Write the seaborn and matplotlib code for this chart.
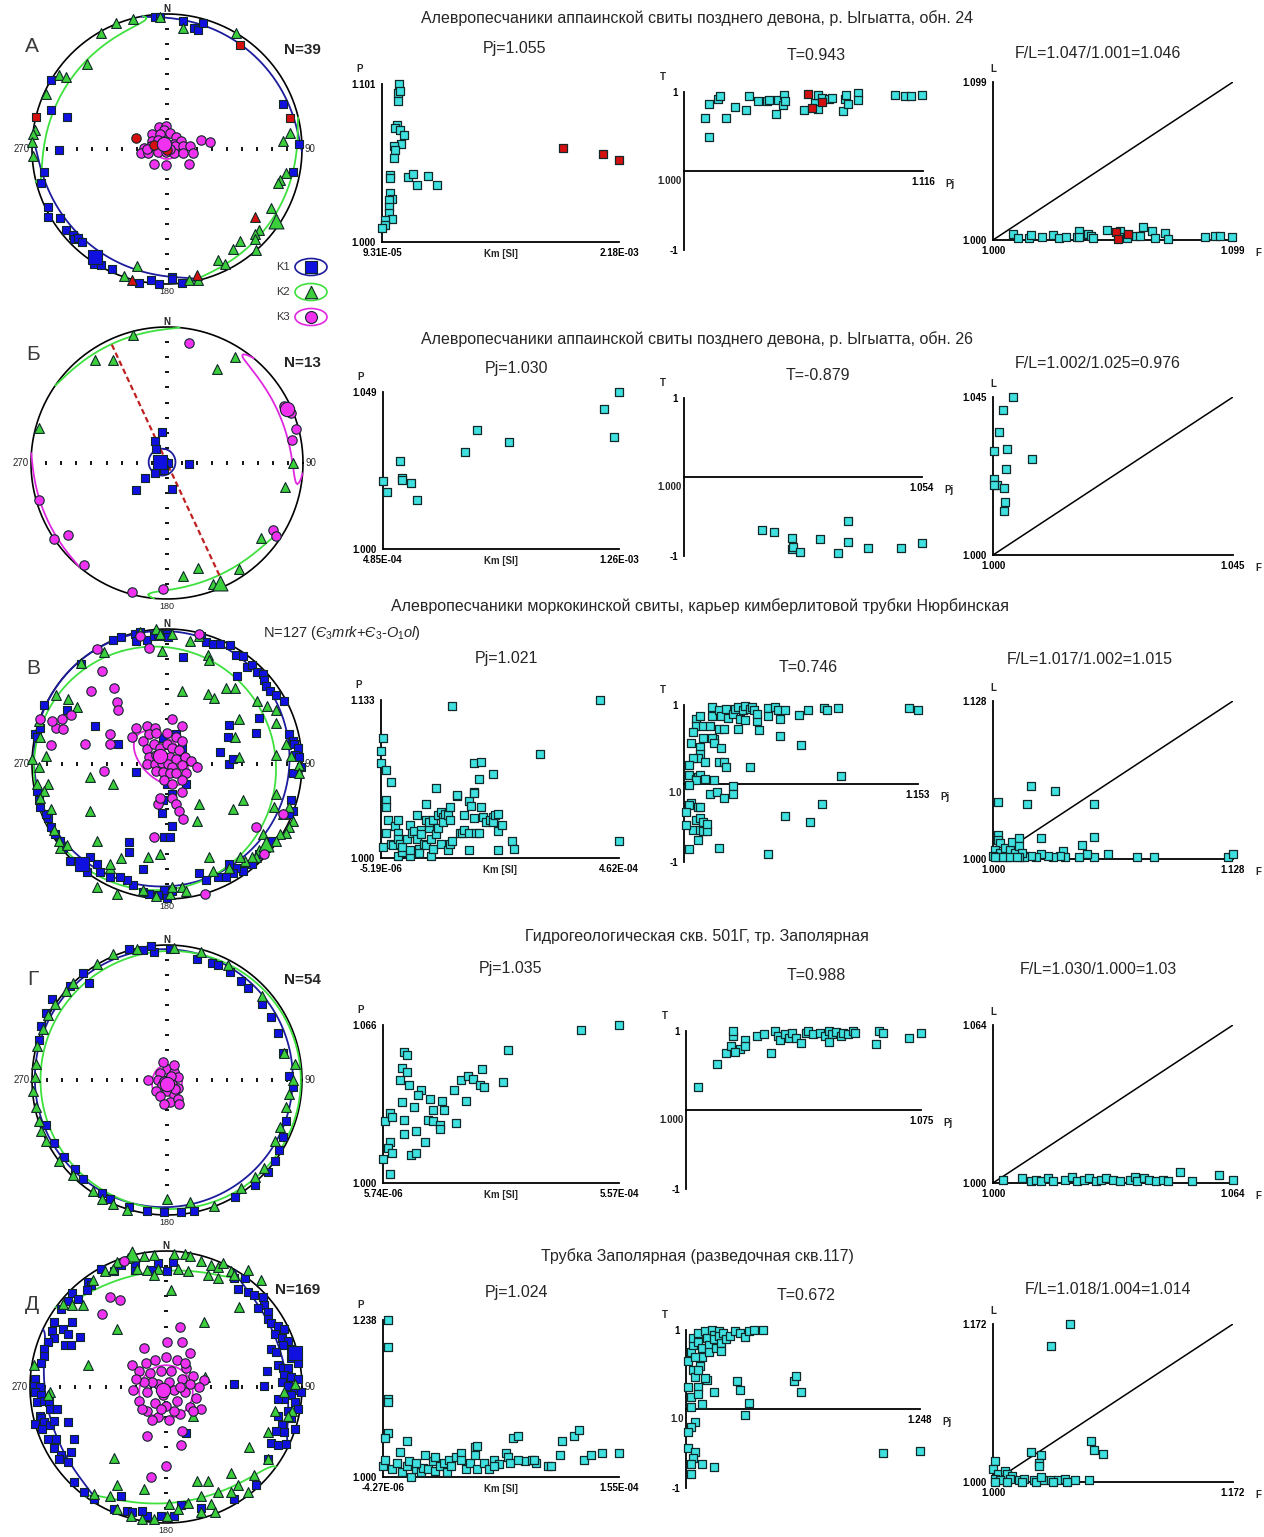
import numpy as np
import matplotlib
matplotlib.use("Agg")
import matplotlib.pyplot as plt
import seaborn as sns
from matplotlib.patches import Ellipse

sns.set_theme(style="white")
plt.rcParams['font.family'] = ['Liberation Sans', 'DejaVu Sans']
plt.rcParams['mathtext.fontset'] = 'custom'
plt.rcParams['mathtext.rm'] = 'Liberation Sans'
plt.rcParams['mathtext.it'] = 'Liberation Sans:italic'
plt.rcParams['mathtext.bf'] = 'Liberation Sans:bold'

REG = ['Liberation Sans', 'DejaVu Sans']
NAR = ['Liberation Sans Narrow', 'Liberation Sans', 'DejaVu Sans']

# ---------------------------------------------------------------- text data
row_titles = [
    "Алевропесчаники аппаинской свиты позднего девона, р. Ыгыатта, обн. 24",
    "Алевропесчаники аппаинской свиты позднего девона, р. Ыгыатта, обн. 26",
    "Алевропесчаники моркокинской свиты, карьер кимберлитовой трубки Нюрбинская",
    "Гидрогеологическая скв. 501Г, тр. Заполярная",
    "Трубка Заполярная (разведочная скв.117)",
]
panel_letters = ["А", "Б", "В", "Г", "Д"]
n_labels = ["N=39", "N=13", r"N=127 ($\mathit{Є_3mrk}$+$\mathit{Є_3}$-$\mathit{O_1ol}$)", "N=54", "N=169"]
pj_titles = ["Pj=1.055", "Pj=1.030", "Pj=1.021", "Pj=1.035", "Pj=1.024"]
t_titles = ["T=0.943", "T=-0.879", "T=0.746", "T=0.988", "T=0.672"]
fl_titles = ["F/L=1.047/1.001=1.046", "F/L=1.002/1.025=0.976", "F/L=1.017/1.002=1.015",
             "F/L=1.030/1.000=1.03", "F/L=1.018/1.004=1.014"]
p_ticks = [["1.000", "1.101"], ["1.000", "1.049"], ["1.000", "1.133"], ["1.000", "1.066"], ["1.000", "1.238"]]
km_ticks = [["9.31E-05", "2.18E-03"], ["4.85E-04", "1.26E-03"], ["-5.19E-06", "4.62E-04"],
            ["5.74E-06", "5.57E-04"], ["-4.27E-06", "1.55E-04"]]
pj_ticks = [["1.000", "1.116"], ["1.000", "1.054"], ["1.0", "1.153"], ["1.000", "1.075"], ["1.0", "1.248"]]
l_ticks = [["1.000", "1.099"], ["1.000", "1.045"], ["1.000", "1.128"], ["1.000", "1.064"], ["1.000", "1.172"]]
legend_names = ["K1", "K2", "K3"]

# ---------------------------------------------------------------- scatter data (fractions of axis span; T in [-1,1])
r1_pkm = [(0.070,1.000),(0.066,0.943),(0.077,0.954),(0.066,0.890),(0.063,0.743),(0.056,0.722),(0.074,0.711),
          (0.091,0.679),(0.080,0.622),(0.052,0.610),(0.056,0.584),(0.052,0.532),(0.035,0.426),(0.035,0.405),
          (0.109,0.409),(0.130,0.430),(0.147,0.363),(0.196,0.416),(0.234,0.359),(0.035,0.310),(0.042,0.274),
          (0.031,0.268),(0.028,0.219),(0.029,0.184),(0.042,0.146),(0.014,0.137),(0.014,0.110),(0.000,0.089)]
r1_pkm_red = [(0.762,0.595),(0.933,0.559),(1.000,0.517)]
r1_tpj = [(0.087,0.665),(0.103,0.434),(0.103,0.845),(0.143,0.916),(0.150,0.950),(0.176,0.665),(0.213,0.807),
          (0.260,0.778),(0.273,0.950),(0.308,0.887),(0.348,0.883),(0.357,0.904),(0.386,0.727),(0.394,0.904),
          (0.415,0.832),(0.420,0.958),(0.422,0.887),(0.502,0.769),(0.548,0.866),(0.559,0.790),(0.559,0.958),
          (0.579,0.925),(0.607,0.908),(0.618,0.920),(0.664,0.757),(0.674,0.916),(0.678,0.958),(0.688,0.845),
          (0.726,0.987),(0.730,0.904),(0.884,0.958),(0.926,0.945),(0.951,0.954),(0.996,0.962)]
r1_tpj_red = [(0.517,0.979),(0.537,0.803),(0.579,0.874)]
r1_lf = [(0.084,0.036),(0.104,0.011),(0.150,0.011),(0.160,0.032),(0.206,0.021),(0.248,0.032),(0.274,0.011),
         (0.306,0.021),(0.348,0.021),(0.359,0.057),(0.397,0.038),(0.407,0.027),(0.418,0.011),(0.476,0.063),
         (0.529,0.059),(0.536,0.021),(0.557,0.011),(0.595,0.025),(0.613,0.025),(0.627,0.085),(0.662,0.059),
         (0.675,0.011),(0.717,0.042),(0.731,0.006),(0.884,0.021),(0.923,0.027),(0.947,0.025),(0.996,0.021),
         (0.358,0.021)]
r1_lf_red = [(0.513,0.053),(0.522,0.006),(0.564,0.038)]

r2_pkm = [(0.0,0.433),(0.015,0.364),(0.074,0.560),(0.081,0.455),(0.081,0.440),(0.118,0.423),(0.143,0.311),
          (0.349,0.615),(0.398,0.757),(0.536,0.683),(0.936,0.894),(0.980,0.715),(1.0,1.0)]
r2_tpj = [(0.327,-0.666),(0.377,-0.691),(0.455,-0.772),(0.455,-0.915),(0.460,-0.882),(0.486,-0.949),
          (0.571,-0.784),(0.647,-0.958),(0.687,-0.560),(0.690,-0.822),(0.775,-0.903),(0.910,-0.899),(1.0,-0.835)]
r2_lf = [(0.082,1.0),(0.040,0.920),(0.027,0.781),(0.005,0.656),(0.060,0.673),(0.164,0.605),(0.055,0.544),
         (0.005,0.479),(0.017,0.441),(0.005,0.441),(0.047,0.422),(0.050,0.335),(0.047,0.281)]

r3_pkm = [(0.01,0.76),(0.00,0.68),(0.00,0.60),(0.02,0.56),(0.04,0.48),(0.02,0.37),(0.02,0.32),(0.03,0.24),
          (0.02,0.16),(0.01,0.07),(0.04,0.09),(0.05,0.08),(0.06,0.20),(0.07,0.24),(0.07,0.16),(0.07,0.12),
          (0.08,0.09),(0.07,0.01),(0.09,0.04),(0.09,0.07),(0.11,0.12),(0.12,0.01),(0.12,0.21),(0.12,0.05),
          (0.13,0.16),(0.14,0.17),(0.15,0.12),(0.15,0.27),(0.16,0.06),(0.16,0.03),(0.17,0.18),(0.17,0.15),
          (0.18,0.09),(0.19,0.24),(0.19,0.34),(0.19,0.08),(0.20,0.19),(0.20,0.23),(0.21,0.12),(0.21,0.01),
          (0.22,0.06),(0.22,0.24),(0.23,0.15),(0.23,0.44),(0.24,0.27),(0.24,0.19),(0.25,0.29),(0.25,0.09),
          (0.26,0.26),(0.26,0.23),(0.27,0.28),(0.28,0.05),(0.28,0.27),(0.29,0.32),(0.29,0.24),(0.29,0.09),
          (0.30,0.11),(0.30,0.96),(0.32,0.39),(0.32,0.40),(0.33,0.16),(0.34,0.16),(0.35,0.27),(0.35,0.18),
          (0.37,0.16),(0.37,0.05),(0.37,0.36),(0.38,0.33),(0.39,0.25),(0.39,0.60),(0.39,0.42),(0.39,0.41),
          (0.40,0.16),(0.41,0.16),(0.41,0.50),(0.42,0.32),(0.42,0.61),(0.43,0.26),(0.44,0.23),(0.46,0.24),
          (0.47,0.26),(0.47,0.53),(0.47,0.23),(0.48,0.27),(0.49,0.05),(0.49,0.28),(0.49,0.17),(0.51,0.21),
          (0.55,0.11),(0.56,0.06),(0.67,0.66),(0.92,1.00),(1.00,0.11)]
r3_tpj = [(0.12,0.97),(0.12,0.86),(0.15,0.94),(0.16,0.86),(0.18,0.95),(0.19,0.84),(0.21,0.89),(0.22,0.95),
          (0.23,0.97),(0.24,0.82),(0.25,0.93),(0.26,0.99),(0.26,0.81),(0.28,0.95),(0.29,0.97),(0.30,0.93),
          (0.31,0.80),(0.31,0.89),(0.36,0.96),(0.36,0.86),(0.39,0.97),(0.40,0.94),(0.41,0.82),(0.43,0.93),
          (0.49,0.87),(0.53,0.93),(0.60,0.96),(0.61,0.94),(0.66,0.96),(0.96,0.96),(1.00,0.93),
          (0.05,0.82),(0.07,0.86),(0.05,0.73),(0.08,0.73),(0.11,0.73),(0.04,0.65),(0.08,0.58),(0.03,0.52),
          (0.07,0.46),(0.07,0.38),(0.06,0.32),(0.04,0.32),(0.02,0.24),(0.09,0.27),(0.13,0.57),(0.15,0.69),
          (0.17,0.70),(0.12,0.58),(0.13,0.51),(0.16,0.45),(0.15,0.28),(0.17,0.27),(0.18,0.21),(0.23,0.69),
          (0.32,0.68),(0.41,0.61),(0.50,0.49),(0.28,0.21),(0.67,0.10),
          (0.02,0.11),(0.05,0.06),(0.06,0.08),(0.07,0.11),(0.05,0.04),(0.09,0.06),(0.13,0.04),(0.02,-0.02),
          (0.21,-0.03),(0.11,-0.14),(0.14,-0.11),(0.17,-0.18),(0.21,-0.14),(0.03,-0.25),(0.02,-0.27),
          (0.06,-0.30),(0.07,-0.30),(0.01,-0.36),(0.59,-0.26),(0.43,-0.41),(0.54,-0.49),
          (0.05,-0.46),(0.07,-0.44),(0.08,-0.49),(0.04,-0.59),(0.07,-0.59),(0.08,-0.60),(0.10,-0.60),
          (0.10,-0.51),(0.01,-0.53),(0.06,-0.72),(0.02,-0.84),(0.15,-0.82),(0.36,-0.90)]
r3_lf = [(0.02,0.36),(0.16,0.46),(0.14,0.35),(0.26,0.43),(0.42,0.35),(0.20,0.13),(0.37,0.09),(0.42,0.14),
         (0.98,0.01),(1.00,0.03),(0.67,0.01),(0.60,0.01),(0.48,0.03),(0.42,0.01),(0.39,0.03),(0.36,0.01),
         (0.29,0.05),(0.30,0.01),(0.28,0.02),(0.25,0.01),(0.23,0.02),(0.20,0.03),(0.18,0.01),(0.16,0.02),
         (0.13,0.01),(0.02,0.15),(0.02,0.12),(0.03,0.10),(0.01,0.06),(0.03,0.04),(0.05,0.07),(0.07,0.06),
         (0.06,0.01),(0.08,0.11),(0.09,0.04),(0.11,0.13),(0.11,0.08),(0.12,0.04),(0.11,0.01),(0.02,0.01),
         (0.04,0.01),(0.07,0.01),(0.10,0.01),(0.00,0.02),(0.01,0.01)]

r4_pkm = [(1.00,1.00),(0.84,0.97),(0.53,0.84),(0.09,0.83),(0.10,0.81),(0.08,0.73),(0.10,0.70),(0.07,0.65),
          (0.11,0.62),(0.16,0.59),(0.15,0.56),(0.08,0.51),(0.13,0.48),(0.01,0.39),(0.03,0.44),(0.04,0.42),
          (0.09,0.40),(0.14,0.33),(0.09,0.31),(0.03,0.26),(0.02,0.22),(0.04,0.19),(0.12,0.18),(0.14,0.19),
          (0.18,0.26),(0.00,0.15),(0.03,0.06),(0.20,0.53),(0.25,0.52),(0.21,0.46),(0.26,0.46),(0.19,0.40),
          (0.21,0.39),(0.24,0.37),(0.24,0.34),(0.31,0.38),(0.30,0.59),(0.33,0.65),(0.36,0.68),(0.38,0.66),
          (0.41,0.62),(0.42,0.72),(0.43,0.61),(0.35,0.52),(0.51,0.64)]
r4_tpj = [(0.05,0.29),(0.13,0.58),(0.17,0.72),(0.19,0.81),(0.20,0.94),(0.20,1.00),(0.23,0.77),(0.25,0.89),
          (0.30,0.94),(0.33,0.96),(0.36,0.72),(0.38,1.00),(0.39,0.94),(0.40,0.89),(0.42,0.96),(0.44,0.91),
          (0.45,0.98),(0.47,0.91),(0.49,0.85),(0.51,0.98),(0.52,1.00),(0.54,0.96),(0.57,0.98),(0.59,0.94),
          (0.61,1.00),(0.62,0.96),(0.64,0.99),(0.66,0.94),(0.67,0.98),(0.69,0.96),(0.71,1.00),(0.72,0.98),
          (0.81,0.84),(0.82,1.00),(0.84,0.98),(0.95,0.91),(1.00,0.97),(0.61,0.86),(0.25,0.81),(0.21,0.74)]
r4_lf = [(0.04,0.02),(0.12,0.03),(0.16,0.01),(0.18,0.02),(0.20,0.01),(0.23,0.03),(0.25,0.01),(0.30,0.02),
         (0.33,0.04),(0.35,0.01),(0.38,0.02),(0.40,0.03),(0.43,0.01),(0.45,0.02),(0.47,0.03),(0.50,0.02),
         (0.53,0.01),(0.57,0.02),(0.59,0.04),(0.60,0.01),(0.63,0.03),(0.65,0.02),(0.68,0.01),(0.71,0.02),
         (0.73,0.01),(0.78,0.07),(0.83,0.01),(0.94,0.05),(1.00,0.02)]

r5_pkm = [(0.02,1.00),(0.02,0.83),(0.02,0.50),(0.02,0.48),(0.02,0.28),(0.01,0.25),(0.10,0.23),(0.00,0.07),
          (0.01,0.11),(0.04,0.05),(0.06,0.09),(0.07,0.16),(0.08,0.03),(0.10,0.07),(0.11,0.10),(0.12,0.00),
          (0.14,0.05),(0.16,0.03),(0.17,0.06),(0.18,0.14),(0.19,0.05),(0.21,0.10),(0.22,0.04),(0.24,0.07),
          (0.26,0.09),(0.27,0.03),(0.28,0.11),(0.31,0.13),(0.33,0.15),(0.35,0.05),(0.37,0.09),(0.39,0.19),
          (0.40,0.20),(0.39,0.14),(0.40,0.05),(0.43,0.09),(0.45,0.05),(0.47,0.11),(0.49,0.08),(0.52,0.15),
          (0.53,0.13),(0.55,0.25),(0.57,0.26),(0.54,0.09),(0.60,0.10),(0.63,0.11),(0.65,0.09),(0.64,0.11),
          (0.70,0.07),(0.71,0.07),(0.75,0.14),(0.76,0.23),(0.81,0.26),(0.83,0.30),(0.85,0.11),(0.88,0.14),
          (0.93,0.15),(1.00,0.15),(0.33,0.11),(0.29,0.07),(0.14,0.09),(0.22,0.13),(0.47,0.07),(0.57,0.11)]
r5_tpj = [(0.01,0.61),(0.02,0.72),(0.03,0.81),(0.03,0.90),(0.05,0.96),(0.05,0.85),(0.07,0.77),(0.07,0.66),
          (0.08,0.99),(0.09,0.90),(0.10,0.81),(0.10,0.72),(0.11,1.00),(0.12,0.94),(0.12,0.88),(0.13,0.77),
          (0.14,0.99),(0.14,0.92),(0.15,0.83),(0.15,0.74),(0.16,0.96),(0.17,0.88),(0.19,0.92),(0.21,0.99),
          (0.23,0.96),(0.25,0.91),(0.27,0.99),(0.29,1.00),(0.33,1.00),(0.03,0.50),(0.04,0.41),(0.05,0.28),
          (0.01,0.28),(0.02,0.15),(0.02,0.02),(0.04,-0.16),(0.02,-0.23),(0.01,-0.29),(0.05,0.19),(0.07,0.06),
          (0.09,0.37),(0.12,0.21),(0.22,0.35),(0.23,0.24),(0.27,0.08),(0.25,-0.07),(0.46,0.35),(0.47,0.42),
          (0.49,0.21),(0.84,-0.56),(1.00,-0.53),(0.01,-0.49),(0.04,-0.54),(0.03,-0.62),(0.02,-0.69),
          (0.07,-0.70),(0.12,-0.73),(0.02,-0.82),(0.08,0.39),(0.06,0.55),(0.04,0.66),(0.05,0.50)]
r5_lf = [(0.32,1.00),(0.24,0.86),(0.16,0.19),(0.20,0.17),(0.19,0.12),(0.19,0.10),(0.41,0.26),(0.42,0.20),
         (0.46,0.18),(0.01,0.13),(0.00,0.08),(0.02,0.05),(0.05,0.07),(0.06,0.05),(0.08,0.04),(0.01,0.02),
         (0.03,0.01),(0.07,0.02),(0.11,0.01),(0.13,0.02),(0.17,0.01),(0.21,0.01),(0.24,0.01),(0.27,0.01),
         (0.30,0.02),(0.34,0.01),(0.40,0.01),(0.01,0.00),(0.06,0.00),(0.12,0.00),(0.18,0.00),(0.25,0.00),
         (0.31,0.00),(0.20,0.03)]

# ---------------------------------------------------------------- stereonet data (unit-circle coordinates)
a_k1 = [(-0.09,0.98),(-0.05,0.98),(0.12,0.95),(0.20,0.90),(0.23,0.88),(0.27,0.93),(0.86,0.33),(0.98,0.04),
        (0.93,-0.17),(-0.86,0.51),(-0.86,0.29),(-0.74,0.24),(-0.80,-0.01),(-0.91,-0.17),(-0.93,-0.25),
        (-0.88,-0.43),(-0.88,-0.50),(-0.79,-0.51),(-0.75,-0.60),(-0.70,-0.64),(-0.69,-0.67),(-0.66,-0.66),
        (-0.63,-0.69),(-0.54,-0.85),(-0.49,-0.86),(-0.41,-0.89),(-0.21,-0.99),(-0.12,-0.97),
        (-0.06,-1.00),(0.04,-0.95),(0.11,-0.99),(0.04,-0.96)]
a_k1_red = [(0.54,0.77),(-0.97,0.24),(0.91,0.23)]
a_k2 = [(-0.25,0.96),(-0.38,0.93),(-0.49,0.86),(-0.59,0.63),(-0.80,0.55),(-0.75,0.53),(-0.90,0.41),
        (-0.98,0.14),(-0.99,0.11),(-1.00,0.05),(-0.99,-0.05),(0.51,0.86),(0.91,0.12),(0.86,0.06),
        (0.88,-0.18),(0.84,-0.23),(0.82,-0.25),(0.77,-0.44),(0.80,-0.55),(0.68,-0.60),(0.65,-0.63),
        (0.54,-0.68),(0.49,-0.74),(0.65,-0.67),(0.66,-0.75),(0.38,-0.82),(0.43,-0.85),(0.23,-0.97),
        (0.16,-0.97),(-0.22,-0.87),(-0.32,-0.94),(-0.05,0.98),(0.12,0.90)]
a_k2_red = [(0.65,-0.50),(-0.26,-0.97),(0.22,-0.93)]
a_k3 = [(-0.06,0.16),(-0.01,0.17),(-0.02,0.14),(-0.11,0.11),(-0.05,0.11),(0.02,0.12),(0.07,0.09),
        (-0.11,0.06),(-0.07,0.07),(-0.02,0.06),(0.05,0.04),(0.10,0.06),(-0.17,0.01),(-0.12,0.02),
        (-0.06,0.02),(0.00,0.03),(0.06,0.02),(0.12,0.02),(0.17,0.02),(-0.19,-0.03),(-0.14,-0.03),
        (-0.07,-0.02),(-0.01,-0.02),(0.05,-0.03),(0.12,-0.03),(0.19,-0.03),(-0.10,-0.11),(-0.01,-0.12),
        (0.16,-0.11),(0.25,0.07),(0.32,0.05),(-0.15,0.00),(0.02,0.00)]
a_k3_red = [(-0.23,0.08),(-0.10,0.03),(0.00,-0.01)]
a_means = [(-0.53,-0.80), (0.81,-0.53), (-0.02,0.04)]

b_k1 = [(-0.04,0.23),(-0.09,0.16),(-0.08,0.10),(-0.05,0.02),(-0.06,0.00),(-0.02,0.01),(0.01,0.00),
        (-0.02,-0.05),(-0.09,-0.07),(-0.16,-0.11),(-0.23,-0.20),(0.04,-0.19),(0.16,-0.01)]
b_k2 = [(-0.25,0.94),(-0.53,0.76),(-0.40,0.76),(0.37,0.69),(0.50,0.78),(-0.94,0.26),(0.93,0.00),
        (0.87,-0.18),(0.69,-0.55),(0.23,-0.77),(0.12,-0.83),(0.53,-0.78),(0.34,-0.89)]
b_k3 = [(0.16,0.88),(0.86,0.42),(0.91,0.37),(0.95,0.25),(0.92,0.17),(-0.94,-0.27),(-0.83,-0.56),
        (-0.73,-0.53),(-0.61,-0.75),(-0.26,-0.95),(-0.03,-0.93),(0.78,-0.49),(0.80,-0.54)]
b_means = [(-0.05,0.01), (0.39,-0.88), (0.88,0.40)]

v_k1 = [(-0.40,0.92),(-0.34,0.94),(-0.24,0.96),(-0.20,0.98),(-0.23,0.91),(-0.15,0.92),(-0.10,0.95),
        (-0.07,0.96),(-0.03,0.95),(0.00,0.96),(0.01,0.94),(0.25,0.95),(0.29,0.90),(0.34,0.89),(0.39,0.89),
        (0.47,0.88),(0.51,0.81),(0.56,0.80),(0.59,0.72),(0.63,0.73),(0.67,0.68),(0.71,0.67),(0.72,0.62),
        (0.73,0.58),(0.76,0.54),(0.81,0.51),(0.87,0.47),(0.12,0.79),(0.52,0.65),(0.68,0.34),(0.66,0.23),
        (0.46,0.29),(0.45,0.20),(0.39,0.09),(0.46,0.00),(0.49,0.04),(0.90,0.22),(0.93,0.17),(0.94,0.15),
        (0.97,0.12),(0.95,0.07),(0.98,0.05),(0.99,-0.02),(0.93,-0.07),(0.92,-0.27),(0.93,-0.35),
        (0.90,-0.37),(0.78,-0.57),(0.73,-0.62),(0.68,-0.67),(0.63,-0.74),(0.56,-0.79),(0.51,-0.77),
        (0.49,-0.81),(0.44,-0.84),(0.46,-0.74),(0.38,-0.84),(0.29,-0.86),(0.24,-0.81),(0.04,-0.94),
        (-0.02,-0.93),(-0.07,-0.97),(-0.13,-0.96),(-0.18,-0.95),(0.00,-0.99),(-0.25,-0.90),(-0.30,-0.86),
        (-0.35,-0.84),(-0.42,-0.84),(-0.50,-0.80),(-0.52,-0.74),(-0.57,-0.69),(-0.64,-0.74),
        (-0.72,-0.72),(-0.77,-0.62),(-0.79,-0.57),(-0.83,-0.52),(-0.86,-0.47),(-0.88,-0.40),(-0.90,-0.37),
        (-0.94,-0.32),(-0.95,-0.27),(-0.96,-0.20),(-0.98,0.22),(-0.96,0.20),(-0.94,0.27),(-0.91,0.44),
        (-0.74,0.40),(-0.64,0.74),(-0.53,0.28),(-0.36,0.15),(-0.23,-0.06),(-0.03,0.19),(0.07,0.22),
        (0.11,0.12),(0.11,0.05),(0.17,0.02),(0.14,-0.15),(0.00,-0.15),(0.04,-0.22),(-0.03,-0.27),
        (-0.04,-0.36),(0.04,-0.46),(-0.02,-0.54),(0.02,-0.54),(-0.28,-0.58),(-0.28,-0.65),(-0.18,-0.78),
        (-0.59,-0.80)]
v_k2 = [(-0.20,0.98),(-0.08,1.00),(-0.05,0.96),(0.04,0.96),(0.17,0.91),(0.24,0.95),(0.30,0.81),(0.31,0.77),
        (-0.47,0.83),(-0.64,0.75),(-0.82,0.51),(-0.73,0.48),(-0.67,0.42),(-0.04,0.84),(0.11,0.54),
        (0.30,0.52),(0.35,0.49),(0.44,0.56),(0.50,0.56),(0.67,0.47),(0.74,0.43),(0.81,0.40),(0.81,0.30),
        (0.53,0.33),(0.50,0.20),(0.53,0.05),(0.81,0.07),(-0.95,0.32),(-0.94,0.20),(-1.00,0.04),
        (-0.95,-0.02),(-0.90,0.06),(-0.88,-0.15),(-0.96,-0.15),(-0.91,-0.20),(-0.94,-0.25),(-0.86,-0.33),
        (-0.57,-0.10),(-0.57,-0.35),(-0.52,-0.57),(-0.40,-0.15),(0.88,0.15),(0.92,0.06),(0.98,-0.01),
        (0.98,-0.07),(0.81,-0.22),(0.79,-0.32),(0.86,-0.37),(0.90,-0.32),(0.93,-0.42),(0.90,-0.47),
        (0.88,-0.51),(0.84,-0.52),(0.81,-0.57),(0.71,-0.52),(0.68,-0.64),(0.66,-0.69),(0.63,-0.69),
        (0.58,-0.72),(0.54,-0.69),(0.56,-0.27),(0.49,-0.33),(0.24,-0.30),(0.22,-0.42),(0.31,-0.69),
        (0.46,-0.77),(0.34,-0.79),(-0.18,-0.93),(-0.08,-0.98),(0.02,-0.96),(0.04,-0.91),(0.11,-0.91),
        (0.14,-0.94),(-0.05,-0.67),(-0.14,-0.69),(-0.34,-0.70),(-0.42,-0.77),(-0.52,-0.91),(-0.37,-0.96),
        (-0.84,-0.49),(-0.79,-0.62),(-0.74,-0.60),(-0.80,-0.57),(-0.42,-0.74)]
v_k3 = [(0.24,0.96),(-0.13,0.86),(-0.20,0.95),(-0.48,0.69),(-0.56,0.54),(-0.39,0.56),(-0.37,0.46),
        (-0.36,0.40),(-0.71,0.36),(-0.78,0.33),(-0.82,0.27),(-0.85,0.32),(-0.94,0.33),(-0.86,0.14),
        (-0.61,0.15),(-0.42,0.15),(-0.42,0.22),(-0.47,-0.05),(-0.77,0.26),(0.04,0.33),(0.11,0.28),
        (-0.26,0.20),(-0.23,0.27),(-0.15,0.28),(-0.09,0.27),(0.86,-0.37),(0.66,-0.47),(0.72,-0.67),
        (0.28,-0.96),(-0.10,-0.54),(-0.07,-0.30),(-0.05,-0.25),(0.04,-0.25),(0.07,-0.30),(0.11,-0.21),
        (0.09,-0.35),(0.12,-0.41),(-0.52,0.85),(-0.18,0.17),(-0.13,0.22),(-0.08,0.23),(0.00,0.23),
        (0.07,0.20),(0.11,0.17),(-0.15,0.11),(-0.10,0.15),(-0.05,0.12),(0.00,0.15),(0.04,0.12),(0.09,0.10),
        (-0.13,0.05),(-0.08,0.07),(-0.03,0.06),(0.02,0.05),(0.07,0.04),(0.13,0.05),(0.18,0.02),
        (0.22,-0.02),(-0.15,0.00),(-0.09,0.00),(-0.04,0.01),(0.01,0.00),(0.04,-0.02),(0.11,-0.01),
        (-0.08,-0.05),(-0.03,-0.06),(0.02,-0.07),(0.07,-0.07),(0.14,-0.07),(-0.02,-0.12),(0.04,-0.15),
        (0.11,-0.12)]
v_means = [(-0.63,-0.74), (0.73,-0.59), (-0.05,0.06)]

g_k1 = [(-0.28,0.97),(-0.18,0.96),(-0.10,0.95),(-0.12,0.99),(0.02,0.97),(0.22,0.90),(0.33,0.87),(0.38,0.85),
        (0.47,0.80),(0.55,0.73),(0.60,0.68),(0.70,0.56),(0.77,0.47),(0.82,0.35),(0.86,0.20),(0.90,0.03),
        (0.93,-0.05),(0.88,-0.30),(0.86,-0.42),(0.83,-0.52),(0.80,-0.60),(0.75,-0.68),(0.65,-0.78),
        (0.50,-0.87),(0.20,-0.97),(0.10,-0.98),(-0.02,-0.98),(-0.15,-0.97),(-0.28,-0.94),(-0.42,-0.88),
        (-0.48,-0.84),(-0.62,-0.73),(-0.68,-0.66),(-0.76,-0.57),(-0.84,-0.47),(-0.90,-0.33),(-0.95,0.30),
        (-0.93,0.40),(-0.90,0.50),(-0.85,0.60),(-0.72,0.70),(-0.62,0.79),(-0.58,0.72)]
g_k2 = [(-0.40,0.93),(-0.52,0.86),(-0.70,0.72),(-0.75,0.66),(-0.83,0.56),(-0.88,0.48),(-0.92,0.38),
        (-0.96,0.25),(-0.97,0.12),(-0.98,0.02),(-0.99,-0.08),(-0.97,-0.20),(-0.95,-0.30),(-0.93,-0.38),
        (-0.90,-0.45),(-0.80,-0.60),(-0.70,-0.70),(-0.55,-0.82),(-0.48,-0.88),(-0.40,-0.92),(-0.30,-0.96),
        (0.00,-0.88),(0.17,-0.90),(0.35,-0.93),(0.55,-0.80),(0.65,-0.72),(0.72,-0.65),(0.84,-0.35),
        (0.88,-0.20),(0.93,0.00),(0.95,0.12),(0.87,0.20),(0.70,0.62),(0.45,0.85),(0.25,0.95),(0.05,0.98),
        (-0.22,0.97),(0.80,-0.45),(0.90,-0.10)]
g_k3 = [(0.00,0.08),(0.05,0.06),(-0.05,0.05),(0.08,0.02),(-0.07,0.00),(0.00,0.00),(0.04,-0.03),
        (-0.04,-0.04),(0.08,-0.06),(-0.08,-0.08),(0.00,-0.08),(0.05,-0.11),(-0.05,-0.12),(0.02,-0.16),
        (0.08,-0.14),(-0.02,-0.18),(0.05,0.11),(-0.03,0.13),(-0.14,0.00),(0.09,-0.18),(0.03,0.03),
        (-0.02,-0.01),(0.06,-0.07)]
g_means = [None, None, (0.00,-0.03)]

d_k1 = [(-0.57,0.77),(-0.55,0.75),(-0.58,0.71),(-0.69,0.69),(-0.65,0.65),(-0.72,0.63),(-0.77,0.57),
        (-0.82,0.48),(-0.69,0.48),(-0.76,0.43),(-0.84,0.41),(-0.72,0.39),(-0.63,0.37),(-0.82,0.36),
        (-0.87,0.33),(-0.74,0.31),(-0.70,0.31),(-0.90,0.28),(-0.90,0.23),(-0.92,0.18),(-0.96,0.06),
        (-0.97,0.01),(-0.93,0.00),(-0.96,-0.04),(-0.92,-0.06),(-0.95,-0.11),(-0.90,-0.10),(-0.86,-0.11),
        (-0.85,-0.16),(-0.80,-0.16),(-0.93,-0.21),(-0.92,-0.23),(-0.90,-0.26),(-0.96,-0.27),(-0.85,-0.28),
        (-0.91,-0.31),(-0.82,-0.25),(-0.72,-0.26),(-0.81,-0.38),(-0.87,-0.38),(-0.82,-0.45),(-0.77,-0.50),
        (-0.79,-0.53),(-0.70,-0.48),(-0.68,-0.38),(-0.72,-0.55),(-0.68,-0.70),(-0.60,-0.77),(-0.53,-0.82),
        (-0.38,-0.90),(-0.29,-0.91),(-0.25,-0.92),(-0.33,-0.80),(-0.48,0.87),(-0.38,0.85),(-0.23,0.86),
        (-0.10,0.86),(0.01,0.85),(0.05,0.92),(-0.06,0.91),(-0.23,0.91),(-0.33,0.90),(0.50,0.80),(0.58,0.80),
        (0.53,0.72),(0.60,0.70),(0.65,0.68),(0.71,0.66),(0.72,0.60),(0.75,0.55),(0.68,0.58),(0.75,0.50),
        (0.77,0.47),(0.82,0.45),(0.87,0.43),(0.80,0.39),(0.85,0.36),(0.90,0.34),(0.86,0.31),(0.92,0.28),
        (0.92,0.21),(0.82,0.16),(0.86,0.14),(0.77,0.28),(0.81,0.26),(0.90,0.14),(0.97,0.18),(0.87,0.09),
        (0.92,0.07),(0.97,0.06),(0.85,0.04),(0.90,0.01),(0.95,-0.02),(0.99,-0.04),(0.92,-0.06),(0.87,-0.09),
        (0.82,-0.09),(0.95,-0.11),(0.97,-0.16),(0.90,-0.18),(0.92,-0.23),(0.82,-0.21),(0.85,-0.28),
        (0.95,-0.31),(0.87,-0.33),(0.81,-0.32),(0.77,-0.41),(0.82,-0.43),(0.88,-0.42),(0.72,0.01),
        (0.50,0.02),(0.75,-0.53),(0.66,-0.72),(0.50,-0.82),(0.26,-0.89),(0.11,-0.87),(0.06,-0.95),
        (-0.04,-0.95),(-0.14,-0.95),(-0.18,-0.91),(0.74,0.12),(0.15,-0.34)]
d_k2 = [(-0.28,0.95),(-0.16,0.96),(-0.09,0.97),(-0.21,0.87),(-0.14,0.86),(-0.06,0.87),(0.06,0.98),
        (0.14,0.98),(0.18,0.96),(0.26,0.93),(0.33,0.90),(0.38,0.88),(0.42,0.91),(0.48,0.85),(0.50,0.82),
        (0.38,0.80),(0.31,0.82),(0.16,0.85),(0.09,0.87),(-0.36,0.92),(-0.45,0.85),(-0.54,0.79),
        (-0.39,0.87),(-0.09,0.82),(0.04,0.71),(-0.76,0.61),(-0.61,0.60),(-0.69,0.60),(0.54,0.59),
        (0.28,0.48),(-0.36,0.43),(-0.57,0.16),(-0.85,-0.04),(-0.97,0.16),(-0.87,-0.06),(0.29,0.07),
        (0.20,-0.21),(0.75,-0.33),(0.61,-0.44),(-0.38,-0.52),(-0.36,-0.72),(-0.16,-0.75),(0.02,-0.86),
        (0.23,-0.69),(0.31,-0.69),(0.48,-0.63),(0.65,-0.65),(0.75,-0.53),(0.48,-0.77),(0.38,-0.77),
        (0.26,-0.80),(0.16,-0.85),(0.09,-0.90),(0.01,-0.95),(-0.09,-0.97),(-0.18,-0.97),(-0.26,-0.95),
        (-0.36,-0.90),(-0.41,-0.80),(-0.53,-0.79),(0.33,-0.86),(0.26,-0.92),(0.36,-0.92),(0.53,-0.72),
        (0.60,-0.77),(0.80,-0.18),(0.87,-0.04),(0.95,0.02),(0.93,-0.18),(0.90,-0.21),(0.70,0.79),
        (0.60,0.86)]
d_k3 = [(-0.41,0.66),(-0.34,0.64),(-0.47,0.54),(0.10,0.44),(0.01,0.33),(0.12,0.33),(-0.16,0.29),
        (0.18,0.25),(-0.25,0.16),(0.28,0.05),(0.26,-0.16),(0.12,-0.32),(-0.14,-0.36),(0.11,-0.43),
        (0.00,-0.58),(-0.11,-0.66),(-0.31,0.93),(-0.20,0.12),(-0.15,0.18),(-0.08,0.20),(0.00,0.22),
        (0.08,0.20),(0.15,0.14),(0.20,0.08),(0.24,0.00),(0.22,-0.08),(0.18,-0.15),(0.10,-0.20),
        (0.02,-0.24),(-0.06,-0.22),(-0.14,-0.18),(-0.20,-0.10),(-0.24,-0.02),(-0.12,0.10),(-0.04,0.12),
        (0.04,0.12),(0.12,0.06),(0.14,-0.04),(0.08,-0.10),(0.00,-0.14),(-0.08,-0.12),(-0.14,-0.04),
        (-0.06,0.02),(0.02,0.04),(0.06,-0.02),(-0.02,-0.06),(-0.10,0.04),(0.10,0.00),(-0.16,0.04),
        (0.18,0.02),(-0.04,-0.16),(0.06,-0.18),(-0.18,-0.16),(0.14,0.18),(-0.22,0.06),(0.20,-0.18),
        (-0.10,-0.24)]
d_means = [(0.95,0.25), (-0.25,0.98), (-0.02,-0.02)]

# confidence cones: (trend, plunge, semi-axis a, semi-axis b, which class)
a_cones = [(220, 2, 52, 8, 0), (303, 3, 48, 10, 1), (0, 88, 8, 8, 2)]
b_cones = [(280, 87, 8, 8, 0), (155, 3, 33, 7, 1), (67, 4, 32, 7, 2)]
v_cones = [(315, 84, 84, 84, 0), (250, 80, 79, 79, 1), (315, 85, 12, 20, 2)]
g_cones = [(300, 87, 85, 85, 0), (90, 87, 85, 86, 1), (180, 88, 9, 11, 2)]
d_cones = [(253, 0, 42, 13, 0), (351, 0, 45, 16, 1), (180, 87, 16, 16, 2)]
b_dashed = [(335, 0.96), (155, 0.92)]   # (azimuth, radius) ends of dashed red line

# ---------------------------------------------------------------- styles
W, H = 1264, 1537
fig = plt.figure(figsize=(W / 100, H / 100), dpi=100)
fig.patch.set_facecolor('white')

CYAN, EDGE, RED = '#3fe0e0', '#102828', '#d41010'
K_FACE = ['#1010e0', '#3ccf3c', '#f032f0']
K_LINE = ['#1c1c9c', '#3ee03e', '#e028e0']
K_MARK = ['s', '^', 'o']
K_SIZE = [40, 50, 46]


def px_axes(x0, y0, x1, y1):
    return fig.add_axes([x0 / W, 1 - y1 / H, (x1 - x0) / W, (y1 - y0) / H])


def ftext(x, y, s, **kw):
    return fig.text(x / W, 1 - y / H, s, **kw)


def pts(ax, data, color, marker='s', s=27, z=3, lw=0.9):
    a = np.asarray(data, float)
    sns.scatterplot(x=a[:, 0], y=a[:, 1], ax=ax, marker=marker, s=s, color=color,
                    edgecolor=EDGE, linewidth=lw, legend=False, clip_on=False, zorder=z)


def cone_xy(trend, plunge, a, b, n=1441):
    t, p = np.radians(trend), np.radians(plunge)
    m = np.array([np.cos(p) * np.cos(t), np.cos(p) * np.sin(t), np.sin(p)])
    u = np.array([-np.sin(t), np.cos(t), 0.0])
    v = np.cross(m, u)
    A, B = np.radians(a), np.radians(b)
    phi = np.linspace(0, 2 * np.pi, n)
    rho = A * B / np.sqrt((B * np.cos(phi)) ** 2 + (A * np.sin(phi)) ** 2)
    d = (np.cos(rho)[:, None] * m
         + np.sin(rho)[:, None] * (np.cos(phi)[:, None] * u + np.sin(phi)[:, None] * v))
    flip = d[:, 2] < 0
    d[flip] *= -1
    theta = np.arccos(np.clip(d[:, 2], -1, 1))
    az = np.arctan2(d[:, 1], d[:, 0])
    r = np.sqrt(2) * np.sin(theta / 2)
    x, y = r * np.sin(az), r * np.cos(az)
    brk = np.where(np.diff(flip.astype(int)) != 0)[0] + 1
    return np.insert(x, brk, np.nan), np.insert(y, brk, np.nan)


def stereonet(cx, cy, R, k_sets, cones, means, reds=None, dashed=None):
    L = 1.25
    ax = px_axes(cx - L * R, cy - L * R, cx + L * R, cy + L * R)
    ax.set_xlim(-L, L)
    ax.set_ylim(-L, L)
    ax.axis('off')
    th = np.linspace(0, 2 * np.pi, 400)
    ax.plot(np.cos(th), np.sin(th), color='black', lw=1.2, zorder=2)
    tk = np.arange(1, 9) / 9
    for sgn in (-1, 1):
        ax.plot(sgn * tk, np.zeros_like(tk), ls='none', marker='|', ms=3.5, mew=1.3, color='black', zorder=1)
        ax.plot(np.zeros_like(tk), sgn * tk, ls='none', marker='_', ms=3.5, mew=1.3, color='black', zorder=1)
    ax.text(0, 1.0, 'N', ha='center', va='bottom', fontsize=7, fontweight='bold', zorder=8)
    ax.text(0, -1.025, '180', ha='center', va='top', fontsize=6.5, zorder=8)
    ax.text(-1.02, 0, '270', ha='right', va='center', fontsize=7)
    ax.text(1.02, 0, '90', ha='left', va='center', fontsize=7)
    for (tr, pl, a, b, k) in cones:
        x, y = cone_xy(tr, pl, a, b)
        ax.plot(x, y, color=K_LINE[k], lw=1.3, zorder=2.5)
    if dashed is not None:
        xs = [r * np.sin(np.radians(az)) for az, r in dashed]
        ys = [r * np.cos(np.radians(az)) for az, r in dashed]
        ax.plot(xs, ys, color='#c02020', lw=1.6, ls=(0, (2.5, 1.5)), zorder=2.6)
    for k, data in enumerate(k_sets):
        pts(ax, data, K_FACE[k], marker=K_MARK[k], s=K_SIZE[k], z=3 + k, lw=0.8)
        if reds is not None:
            pts(ax, reds[k], RED, marker=K_MARK[k], s=K_SIZE[k], z=3.5 + k, lw=0.8)
        if means[k] is not None:
            pts(ax, [means[k]], K_FACE[k], marker=K_MARK[k], s=K_SIZE[k] * 2.3, z=3.6 + k, lw=0.8)
    return ax


def style_axes(ax):
    for s in ['top', 'right']:
        ax.spines[s].set_visible(False)
    for s in ['left', 'bottom']:
        ax.spines[s].set_color('black')
        ax.spines[s].set_linewidth(1.3)
    ax.set_facecolor('none')
    ax.grid(False)
    ax.tick_params(length=3, width=1, direction='out', pad=1.5, colors='black')


def p_panel(box, data, pt, kt, fam, red=None):
    ax = px_axes(*box)
    ax.set_xlim(0, 1)
    ax.set_ylim(0, 1)
    style_axes(ax)
    pts(ax, data, CYAN)
    if red is not None:
        pts(ax, red, RED, z=4)
    kw = dict(fontsize=7, fontweight='bold', family=fam)
    ax.set_yticks([0, 1], labels=pt, **kw)
    ax.set_xticks([0, 1], labels=kt, **kw)
    ax.text(0.5, -0.045, 'Km [SI]', transform=ax.transAxes, ha='center', va='top', **kw)
    ax.annotate('P', xy=(0, 1), xycoords='axes fraction', xytext=(-22, 10), textcoords='offset pixels',
                ha='center', va='bottom', **kw)
    ax.set_xlabel('')
    ax.set_ylabel('')


def t_panel(box, data, jt, fam, red=None):
    ax = px_axes(*box)
    ax.set_xlim(0, 1)
    ax.set_ylim(-1, 1)
    style_axes(ax)
    ax.spines['bottom'].set_position(('data', 0))
    pts(ax, data, CYAN)
    if red is not None:
        pts(ax, red, RED, z=4)
    kw = dict(fontsize=7, fontweight='bold', family=fam)
    ax.set_yticks([-1, 1], labels=['-1', '1'], **kw)
    ax.set_xticks([1], labels=[jt[1]], **kw)
    ax.text(-0.01, -0.06, jt[0], ha='right', va='top', **kw)
    ax.annotate('Pj', xy=(1, 0), xycoords=('axes fraction', 'data'), xytext=(22, -8),
                textcoords='offset pixels', ha='left', va='top', **kw)
    ax.annotate('T', xy=(0, 1), xycoords='axes fraction', xytext=(-21, 10), textcoords='offset pixels',
                ha='center', va='bottom', **kw)
    ax.set_xlabel('')
    ax.set_ylabel('')


def l_panel(box, data, lt, fam, red=None):
    ax = px_axes(*box)
    ax.set_xlim(0, 1)
    ax.set_ylim(0, 1)
    style_axes(ax)
    ax.plot([0, 1], [0, 1], color='black', lw=1.1, zorder=2)
    pts(ax, data, CYAN)
    if red is not None:
        pts(ax, red, RED, z=4)
    kw = dict(fontsize=7, fontweight='bold', family=fam)
    ax.set_yticks([0, 1], labels=lt, **kw)
    ax.set_xticks([0, 1], labels=lt, **kw)
    ax.annotate('F', xy=(1, 0), xycoords='axes fraction', xytext=(22, -8), textcoords='offset pixels',
                ha='left', va='top', **kw)
    ax.annotate('L', xy=(0, 1), xycoords='axes fraction', xytext=(0, 8), textcoords='offset pixels',
                ha='center', va='bottom', **kw)
    ax.set_xlabel('')
    ax.set_ylabel('')


# ---------------------------------------------------------------- layout
nets = [(167, 149, 135), (167, 463, 136), (167, 764, 135), (167, 1080, 135), (166, 1387, 136)]
p_boxes = [(382, 84, 619, 242), (383, 392, 619, 549), (381, 700, 619, 858), (383, 1025, 619, 1183), (383, 1320, 619, 1477)]
t_boxes = [(684, 92, 923, 250), (684, 398, 922, 556), (684, 705, 918, 862), (686, 1031, 921, 1189), (686, 1330, 920, 1488)]
l_boxes = [(993, 82, 1233, 240), (993, 397, 1233, 555), (993, 701, 1233, 859), (993, 1025, 1233, 1183), (993, 1324, 1233, 1482)]
title_y = [18, 339, 606, 937, 1256]
title_x = [697, 697, 700, 697, 697]
sub_pos = [[(515, 48), (816, 56), (1098, 53)], [(516, 368), (818, 375), (1098, 364)],
           [(506, 659), (808, 667), (1090, 659)], [(510, 968), (816, 976), (1098, 969)],
           [(516, 1292), (806, 1295), (1108, 1289)]]
letter_pos = [(32, 47), (33, 355), (33, 668), (33, 980), (32, 1305)]
nlab_pos = [(302, 50, 'center'), (302, 363, 'center'), (263, 633, 'left'), (302, 980, 'center'), (298, 1290, 'center')]
tick_fams = [REG, NAR, REG, NAR, NAR]
head_fams = [REG, REG, REG, NAR, REG]

stereo_sets = [(a_k1, a_k2, a_k3), (b_k1, b_k2, b_k3), (v_k1, v_k2, v_k3), (g_k1, g_k2, g_k3), (d_k1, d_k2, d_k3)]
stereo_cones = [a_cones, b_cones, v_cones, g_cones, d_cones]
stereo_means = [a_means, b_means, v_means, g_means, d_means]
pkm_data = [r1_pkm, r2_pkm, r3_pkm, r4_pkm, r5_pkm]
tpj_data = [r1_tpj, r2_tpj, r3_tpj, r4_tpj, r5_tpj]
lf_data = [r1_lf, r2_lf, r3_lf, r4_lf, r5_lf]

for i in range(5):
    cx, cy, R = nets[i]
    stereonet(cx, cy, R, stereo_sets[i], stereo_cones[i], stereo_means[i],
              reds=(a_k1_red, a_k2_red, a_k3_red) if i == 0 else None,
              dashed=b_dashed if i == 1 else None)
    p_panel(p_boxes[i], pkm_data[i], p_ticks[i], km_ticks[i], tick_fams[i], red=r1_pkm_red if i == 0 else None)
    t_panel(t_boxes[i], tpj_data[i], pj_ticks[i], tick_fams[i], red=r1_tpj_red if i == 0 else None)
    l_panel(l_boxes[i], lf_data[i], l_ticks[i], tick_fams[i], red=r1_lf_red if i == 0 else None)
    ftext(title_x[i], title_y[i], row_titles[i], ha='center', va='center', fontsize=11.5, family=head_fams[i])
    for (sx, sy), s in zip(sub_pos[i], [pj_titles[i], t_titles[i], fl_titles[i]]):
        ftext(sx, sy, s, ha='center', va='center', fontsize=11.5, family=head_fams[i])
    lx, ly = letter_pos[i]
    ftext(lx, ly, panel_letters[i], ha='center', va='center', fontsize=15, color='#3a3a3a')
    nx, ny, nha = nlab_pos[i]
    ftext(nx, ny, n_labels[i], ha=nha, va='center', fontsize=11 if i != 2 else 10.5,
          fontweight='bold' if i != 2 else 'normal')

# legend of A
lax = px_axes(265, 255, 340, 330)
lax.set_xlim(265, 340)
lax.set_ylim(330, 255)
lax.axis('off')
for k, yy in enumerate([267, 292, 317]):
    lax.text(283, yy, legend_names[k], ha='center', va='center', fontsize=8, color='#333333')
    lax.add_patch(Ellipse((311, yy), 32, 17, fill=False, edgecolor=K_LINE[k], lw=1.2))
    lax.scatter([311], [yy], marker=K_MARK[k], s=K_SIZE[k] * 1.6, color=K_FACE[k], edgecolor=EDGE,
                linewidth=0.8, zorder=3)

fig.savefig('out.png', dpi=100, facecolor='white')
